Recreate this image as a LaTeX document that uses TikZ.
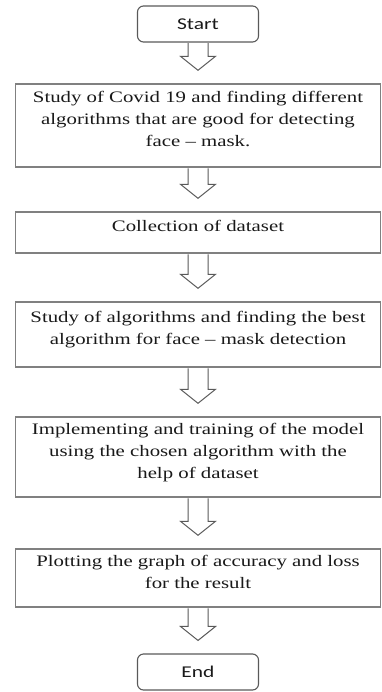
\documentclass[tikz,border=0pt]{standalone}
\usepackage{fontspec}
\setmainfont{Liberation Serif}[FakeStretch=1.3]
\newfontfamily\calibri{Carlito}[FakeStretch=1.3]
\usepackage{tikz}
\usetikzlibrary{positioning,calc}
\definecolor{linegray}{RGB}{128,128,128}
\definecolor{edgegray}{RGB}{89,89,89}
\definecolor{inkblack}{RGB}{25,25,25}
\tikzset{
    x=1pt,
    y=1pt,
    block/.style = {
        draw=linegray,
        shape=rectangle,
        minimum width=365pt,
        inner sep=0pt,
        align=center,
        text=inkblack,
        text depth=13pt,
        line width=1.4pt,
        font=\fontsize{16}{22}\selectfont
    },
    terminal/.style = {
        draw=edgegray,
        shape=rectangle,
        rounded corners=6pt,
        minimum width=121pt,
        minimum height=36pt,
        text=inkblack,
        line width=1.1pt,
        font=\calibri\fontsize{16.5}{20}\selectfont
    },
    fatarrow/.style = {
        draw=edgegray,
        fill=white,
        line width=1pt,
        line join=miter
    },
}
% hollow down arrow from one box to the next
\newcommand{\flowarrow}[2]{%
    \path[fatarrow] let \p1 = (#1.south), \p2 = (#2.north) in
        (\x1-10pt,\y1-0.7pt) -- (\x1-10pt,\y2+27pt) -- (\x1-17.5pt,\y2+27pt)
        -- (\x1,\y2+13pt) -- (\x1+17.5pt,\y2+27pt) -- (\x1+10pt,\y2+27pt)
        -- (\x1+10pt,\y1-0.7pt);
}

\begin{document}
\begin{tikzpicture}
                \useasboundingbox (0,0) rectangle (382,-692);

                \node[terminal] (start) at (198,-24) {Start};
                \node[block, minimum height=83pt] (study) at (198,-125.5) {Study of Covid 19 and finding different\\ algorithms that are good for detecting\\ face – mask.};
                \node[block, minimum height=41pt] (collect) at (198,-232.5) {Collection of dataset};
                \node[block, minimum height=65pt] (algo) at (198,-334.5) {Study of algorithms and finding the best\\ algorithm for face – mask detection};
                \node[block, minimum height=80pt] (train) at (198,-457) {Implementing and training of the model\\ using the chosen algorithm with the\\ help of dataset};
                \node[block, minimum height=58pt] (plot) at (198,-578) {Plotting the graph of accuracy and loss\\ for the result};
                \node[terminal] (stop) at (198,-672) {End};

                \flowarrow{start}{study}
                \flowarrow{study}{collect}
                \flowarrow{collect}{algo}
                \flowarrow{algo}{train}
                \flowarrow{train}{plot}
                \flowarrow{plot}{stop}
\end{tikzpicture}
\end{document}
